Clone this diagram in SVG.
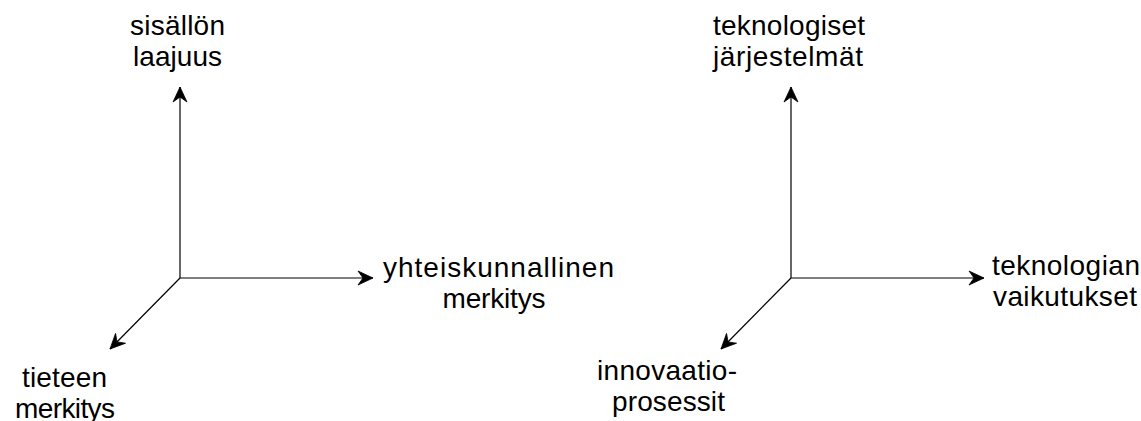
<svg xmlns="http://www.w3.org/2000/svg" width="1141" height="421" viewBox="0 0 1141 421">
  <style>
    .axis { fill: none; stroke: #000; stroke-width: 1.2; marker-end: url(#arrow); }
    .label { font-family: "Liberation Sans", Arial, sans-serif; font-size: 28px; fill: #000; text-anchor: middle; }
  </style>
  <defs>
    <marker id="arrow" markerUnits="userSpaceOnUse" markerWidth="18" markerHeight="16" viewBox="-16 -8 17 16" refX="0" refY="0" orient="auto">
      <path d="M0,0 L-15,-7 L-10,0 L-15,7 Z" fill="#000" stroke="#000" stroke-width="0.8" stroke-linejoin="miter"/>
    </marker>
  </defs>
  <rect width="1141" height="421" fill="#fff"/>

  <!-- axes -->
  <g id="connectors">
    <path class="axis" d="M180,278 L180,87"/>
    <path class="axis" d="M180,278 L373,278"/>
    <path class="axis" d="M180,278 L110,349"/>
    <path class="axis" d="M791,278 L791,87"/>
    <path class="axis" d="M791,278 L984,278"/>
    <path class="axis" d="M791,278 L721,349"/>
  </g>

  <!-- left system labels -->
  <g id="sisallon-laajuus">
    <text class="label" x="177.5" y="35" textLength="95">sisällön</text>
    <text class="label" x="177.5" y="66" textLength="89">laajuus</text>
  </g>
  <g id="yhteiskunnallinen-merkitys">
    <text class="label" x="498.5" y="277" textLength="231">yhteiskunnallinen</text>
    <text class="label" x="494" y="308" textLength="103">merkitys</text>
  </g>
  <g id="tieteen-merkitys">
    <text class="label" x="64.5" y="387" textLength="85">tieteen</text>
    <text class="label" x="65" y="418" textLength="100">merkitys</text>
  </g>

  <!-- right system labels -->
  <g id="teknologiset-jarjestelmat">
    <text class="label" x="789" y="35" textLength="152">teknologiset</text>
    <text class="label" x="788" y="66" textLength="150">järjestelmät</text>
  </g>
  <g id="teknologian-vaikutukset">
    <text class="label" x="1066" y="275" textLength="148">teknologian</text>
    <text class="label" x="1065" y="306" textLength="144">vaikutukset</text>
  </g>
  <g id="innovaatioprosessit">
    <text class="label" x="667" y="380" textLength="140">innovaatio-</text>
    <text class="label" x="668.5" y="411" textLength="113">prosessit</text>
  </g>
</svg>
